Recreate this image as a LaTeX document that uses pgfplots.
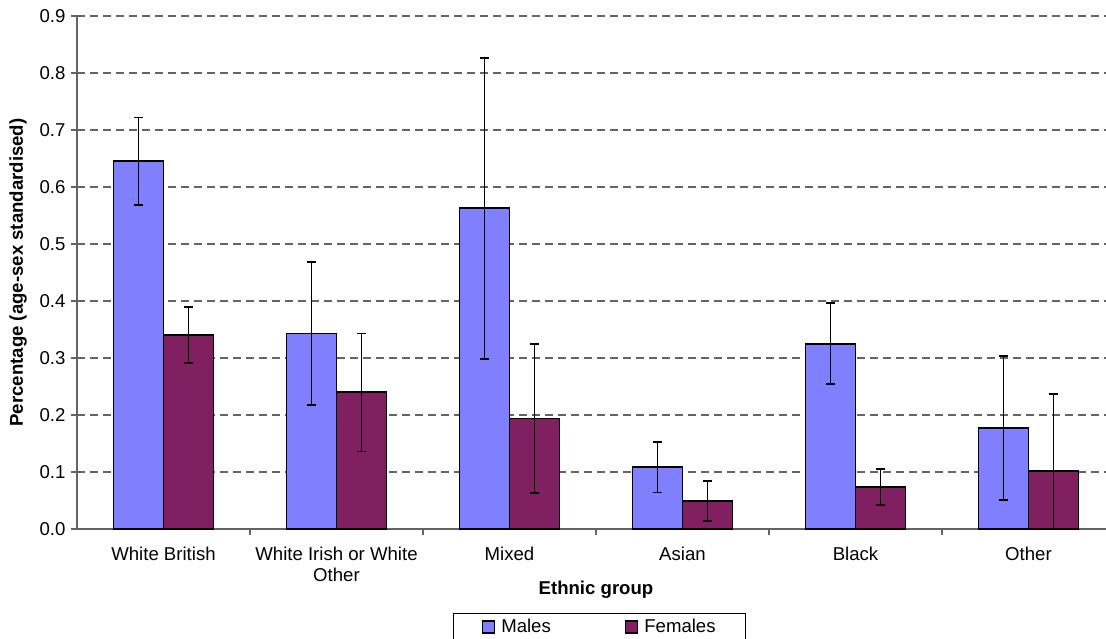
\documentclass[border=0pt]{standalone}
\usepackage{pgfplots}
\pgfplotsset{compat=1.18}
\usepackage{fontspec}
\setmainfont{Liberation Sans}
\definecolor{mblue}{RGB}{128,128,255}
\definecolor{fplum}{RGB}{128,32,96}
\definecolor{gridgray}{RGB}{100,100,100}
\newcommand{\chartfont}{\fontsize{18.6bp}{21bp}\selectfont}
\begin{document}
\begin{tikzpicture}
\path[use as bounding box] (-77bp,-110bp) rectangle (1029bp,529bp);
\clip (-77bp,-110bp) rectangle (1029bp,529bp);
\begin{axis}[
  at={(0,0)}, anchor=south west,
  scale only axis, width=1029bp, height=513bp,
  xmin=-0.5, xmax=5.448, ymin=0, ymax=0.9,
  axis x line*=bottom, axis y line*=left,
  axis line style={draw=gridgray, line width=1.5bp, -},
  ybar=0pt, bar width=50bp,
  xtick={0,1,2,3,4,5},
  xticklabels={White British, White Irish or White\\Other, Mixed, Asian, Black, Other},
  xticklabel style={align=center, anchor=north, yshift=-8bp, font=\chartfont},
  major x tick style={draw=none},
  minor xtick={0.5,1.5,2.5,3.5,4.5},
  minor tick length=6bp,
  minor x tick style={draw=gridgray, line width=1.5bp},
  ytick={0,0.1,...,0.9},
  major tick length=6bp,
  tick align=outside,
  y tick style={draw=gridgray, line width=1.5bp},
  yticklabel style={font=\chartfont, xshift=-2bp, /pgf/number format/.cd, fixed, fixed zerofill, precision=1, assume math mode=true},
  ymajorgrids,
  grid style={draw=gridgray, line width=1.5bp, dash pattern=on 8bp off 5bp},
  xlabel={\textbf{Ethnic group}},
  every axis x label/.style={at={([yshift=-61bp]axis cs:2.5,0)}, anchor=center, font=\chartfont},
  ylabel={\textbf{Percentage (age-sex standardised)}},
  every axis y label/.style={at={([xshift=-59bp]axis description cs:0,0.5)}, anchor=center, rotate=90, font=\chartfont},
  legend columns=2,
  legend style={at={([yshift=-84bp]axis description cs:0.508,0)}, anchor=north, draw=black, line width=1bp, font=\chartfont, inner xsep=28bp, inner ysep=4bp,
    /tikz/every even column/.append style={column sep=72bp}},
  legend image code/.code={\draw[#1, draw=black, line width=1.3bp] (0bp,-6bp) rectangle (12bp,6bp); \path (16bp,0bp);},
  error bars/y dir=both, error bars/y explicit,
  error bars/error bar style={black, line width=1.7bp},
  error bars/error mark options={rotate=90, mark size=4.5bp, black, line width=1.7bp},
]
\addplot[fill=mblue, draw=black, line width=1.6bp] coordinates {
  (0,0.646) += (0,0.076) -= (0,0.077)
  (1,0.343) += (0,0.125) -= (0,0.126)
  (2,0.563) += (0,0.263) -= (0,0.265)
  (3,0.109) += (0,0.044) -= (0,0.045)
  (4,0.325) += (0,0.071) -= (0,0.070)
  (5,0.177) += (0,0.127) -= (0,0.126)
};
\addplot[fill=fplum, draw=black, line width=1.6bp] coordinates {
  (0,0.340) += (0,0.050) -= (0,0.049)
  (1,0.240) += (0,0.103) -= (0,0.104)
  (2,0.194) += (0,0.131) -= (0,0.131)
  (3,0.049) += (0,0.035) -= (0,0.035)
  (4,0.074) += (0,0.031) -= (0,0.032)
  (5,0.102) += (0,0.135) -= (0,0.102)
};
\legend{Males, Females}
\end{axis}
\end{tikzpicture}
\end{document}
